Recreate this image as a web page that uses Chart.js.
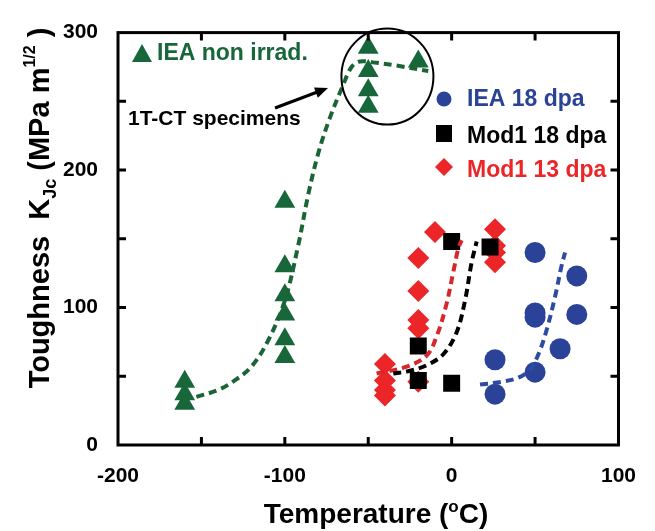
<!DOCTYPE html>
<html>
<head>
<meta charset="utf-8">
<script src="https://cdn.jsdelivr.net/npm/chart.js@4.4.1/dist/chart.umd.min.js"></script>
<style>
  html, body { margin: 0; padding: 0; background: #fff; }
  #wrap { width: 655px; height: 531px; }
</style>
</head>
<body>
<div id="wrap"><canvas id="myChart" width="655" height="531"></canvas></div>
<script>
// IEA non irradiated (triangles)
const ieaNonIrrad = [
    { x: -160, y: 46 }, { x: -160, y: 37 }, { x: -160, y: 30 },
    { x: -100, y: 177 }, { x: -100, y: 130 }, { x: -100, y: 109 },
    { x: -100, y: 95 }, { x: -100, y: 77 }, { x: -100, y: 64 },
    { x: -50, y: 289 }, { x: -50, y: 272 }, { x: -50, y: 258 }, { x: -50, y: 246 },
    { x: -20, y: 279 },
];
// IEA 18 dpa (circles)
const iea18 = [
    { x: 50, y: 140 }, { x: 75, y: 123 }, { x: 50, y: 96 }, { x: 50, y: 93 },
    { x: 75, y: 95 }, { x: 65, y: 70 }, { x: 26, y: 62 }, { x: 50, y: 53 },
    { x: 26, y: 37 },
];
// Mod1 18 dpa (squares)
const mod1_18 = [
    { x: 0, y: 148 }, { x: 23, y: 144 }, { x: -20, y: 72 },
    { x: -20, y: 47 }, { x: 0, y: 45 },
];
// Mod1 13 dpa (diamonds)
const mod1_13 = [
    { x: -10, y: 155 }, { x: -20, y: 136 }, { x: -20, y: 112 }, { x: -20, y: 91 },
    { x: -20, y: 85 }, { x: -20, y: 46 },
    { x: 26, y: 157 }, { x: 26, y: 145 }, { x: 26, y: 140 }, { x: 26, y: 133 },
    { x: -40, y: 59 }, { x: -40, y: 47 }, { x: -40, y: 40 }, { x: -40, y: 36 },
];

// fitted curves
const fitNonIrrad = [
    { x: -153, y: 35 }, { x: -140, y: 40 }, { x: -130, y: 47 }, { x: -120, y: 57 },
    { x: -110, y: 76 }, { x: -100, y: 105 }, { x: -92, y: 145 }, { x: -86, y: 182 },
    { x: -80, y: 212 }, { x: -73, y: 238 }, { x: -65, y: 262 }, { x: -60, y: 275 },
    { x: -55, y: 279 }, { x: -45, y: 278 }, { x: -33, y: 276 }, { x: -14, y: 272 },
];
const fitIea18 = [
    { x: 17, y: 44 }, { x: 30, y: 46 }, { x: 40, y: 49 }, { x: 47, y: 55 },
    { x: 52, y: 66 }, { x: 57, y: 84 }, { x: 62, y: 108 }, { x: 66, y: 131 }, { x: 68, y: 140 },
];
const fitMod1_18 = [
    { x: -35, y: 52 }, { x: -25, y: 54 }, { x: -15, y: 58 }, { x: -5, y: 66 },
    { x: 3, y: 82 }, { x: 8, y: 105 }, { x: 12, y: 133 }, { x: 15, y: 148 },
];
const fitMod1_13 = [
    { x: -45, y: 52 }, { x: -27, y: 57 }, { x: -15, y: 65 }, { x: -9, y: 79 },
    { x: -3, y: 103 }, { x: 1, y: 126 }, { x: 4, y: 143 }, { x: 6, y: 149 },
];

const xTicks = [-200, -100, 0, 100];
const yTicks = [0, 100, 200, 300];

const GREEN = '#18673a';
const BLUE = '#2b4299';
const RED = '#ec2528';
const FONT = '"Liberation Sans", Arial, sans-serif';

function curve(data, color) {
    return {
        type: 'line', data, showLine: true, pointRadius: 0,
        borderColor: color, borderWidth: 4, borderDash: [8, 5],
        tension: 0.35, fill: false, order: 0,
    };
}

function marks(data, color, style, radius, order) {
    return {
        data, showLine: false, pointStyle: style, pointRadius: radius,
        backgroundColor: color, borderColor: color, borderWidth: 0, order,
    };
}

function drawPieces(ctx, pieces, x, y) {
    pieces.forEach(p => {
        ctx.font = `bold ${p.size}px ${FONT}`;
        ctx.fillText(p.text, x, y + (p.dy || 0));
        x += ctx.measureText(p.text).width;
    });
}

function piecesWidth(ctx, pieces) {
    return pieces.reduce((w, p) => {
        ctx.font = `bold ${p.size}px ${FONT}`;
        return w + ctx.measureText(p.text).width;
    }, 0);
}

const decor = {
    id: 'decor',
    afterDraw(chart) {
        const { ctx, chartArea: a, scales: { x, y } } = chart;
        ctx.save();
        ctx.fillStyle = '#000';
        ctx.strokeStyle = '#000';

        // frame with inward ticks
        ctx.lineWidth = 3;
        ctx.strokeRect(a.left, a.top, a.right - a.left, a.bottom - a.top);
        ctx.beginPath();
        for (let v = -150; v < 100; v += 50) {
            const px = x.getPixelForValue(v);
            ctx.moveTo(px, a.bottom); ctx.lineTo(px, a.bottom - 8);
            ctx.moveTo(px, a.top); ctx.lineTo(px, a.top + 8);
        }
        for (let v = 50; v < 300; v += 50) {
            const py = y.getPixelForValue(v);
            ctx.moveTo(a.left, py); ctx.lineTo(a.left + 8, py);
            ctx.moveTo(a.right, py); ctx.lineTo(a.right - 8, py);
        }
        ctx.stroke();

        // 1T-CT ellipse and arrow
        ctx.lineWidth = 2;
        ctx.beginPath();
        ctx.ellipse(x.getPixelForValue(-38.5), y.getPixelForValue(268), 46, 48, 0, 0, Math.PI * 2);
        ctx.stroke();
        const ax0 = 275, ay0 = 108, ax1 = 328, ay1 = 88;
        ctx.lineWidth = 3;
        ctx.beginPath();
        ctx.moveTo(ax0, ay0); ctx.lineTo(ax1 - 8, ay1 + 3);
        ctx.stroke();
        const ang = Math.atan2(ay1 - ay0, ax1 - ax0);
        ctx.beginPath();
        ctx.moveTo(ax1, ay1);
        ctx.lineTo(ax1 - 14 * Math.cos(ang - 0.4), ay1 - 14 * Math.sin(ang - 0.4));
        ctx.lineTo(ax1 - 14 * Math.cos(ang + 0.4), ay1 - 14 * Math.sin(ang + 0.4));
        ctx.closePath();
        ctx.fill();

        ctx.textBaseline = 'middle';
        ctx.textAlign = 'left';
        ctx.font = `bold 21px ${FONT}`;
        ctx.fillText('1T-CT specimens', 128, 119);

        // legend entries
        ctx.fillStyle = GREEN;
        ctx.beginPath();
        ctx.moveTo(142, 44); ctx.lineTo(152, 62); ctx.lineTo(132, 62); ctx.closePath();
        ctx.fill();
        ctx.font = `bold 23px ${FONT}`;
        ctx.fillText('IEA non irrad.', 157, 54);

        ctx.fillStyle = BLUE;
        ctx.beginPath(); ctx.arc(444, 99, 7.5, 0, Math.PI * 2); ctx.fill();
        ctx.fillText('IEA 18 dpa', 467, 100);

        ctx.fillStyle = '#000';
        ctx.fillRect(436, 125, 16, 17);
        ctx.fillText('Mod1 18 dpa', 467, 137);

        ctx.fillStyle = RED;
        ctx.beginPath();
        ctx.moveTo(444, 158); ctx.lineTo(453, 167); ctx.lineTo(444, 176); ctx.lineTo(435, 167);
        ctx.closePath(); ctx.fill();
        ctx.fillText('Mod1 13 dpa', 467, 171);

        // axis titles
        ctx.fillStyle = '#000';
        ctx.textBaseline = 'alphabetic';
        const xt = [
            { text: 'Temperature (', size: 28 },
            { text: 'o', size: 17, dy: -11 },
            { text: 'C)', size: 28 },
        ];
        drawPieces(ctx, xt, 376 - piecesWidth(ctx, xt) / 2, 523);

        const yt = [
            { text: 'Toughness  K', size: 29 },
            { text: 'Jc', size: 18, dy: 7 },
            { text: ' (MPa m', size: 29 },
            { text: '1/2', size: 16, dy: -14 },
            { text: ' )', size: 29 },
        ];
        ctx.translate(49, 208);
        ctx.rotate(-Math.PI / 2);
        drawPieces(ctx, yt, -piecesWidth(ctx, yt) / 2, 0);
        ctx.restore();
    },
};

const tickFont = { family: FONT, size: 21, weight: 'bold' };

new Chart(document.getElementById('myChart').getContext('2d'), {
    type: 'scatter',
    data: {
        datasets: [
            curve(fitNonIrrad, '#1b6535'),
            curve(fitIea18, '#2d4ba3'),
            curve(fitMod1_18, '#000000'),
            curve(fitMod1_13, '#d8262b'),
            marks(mod1_18, '#000000', 'rect', 12, 1),
            marks(mod1_13, RED, 'rectRot', 11, 2),
            marks(iea18, BLUE, 'circle', 10.5, 1),
            marks(ieaNonIrrad, GREEN, 'triangle', 12, 1),
        ],
    },
    options: {
        responsive: false,
        animation: false,
        events: [],
        layout: { padding: { left: 0, right: 35, top: 22, bottom: 0 } },
        plugins: { legend: { display: false }, tooltip: { enabled: false } },
        scales: {
            x: {
                min: -200, max: 100,
                afterFit: s => { s.height = 86; },
                afterBuildTicks: s => { s.ticks = xTicks.map(v => ({ value: v })); },
                grid: { display: false, drawTicks: false },
                border: { display: false },
                ticks: { color: '#000', font: tickFont, padding: 19, maxRotation: 0 },
            },
            y: {
                min: 0, max: 300,
                afterFit: s => { s.width = 118; },
                afterBuildTicks: s => { s.ticks = yTicks.map(v => ({ value: v })); },
                grid: { display: false, drawTicks: false },
                border: { display: false },
                ticks: { color: '#000', font: tickFont, padding: 20 },
            },
        },
    },
    plugins: [decor],
});
</script>
</body>
</html>
